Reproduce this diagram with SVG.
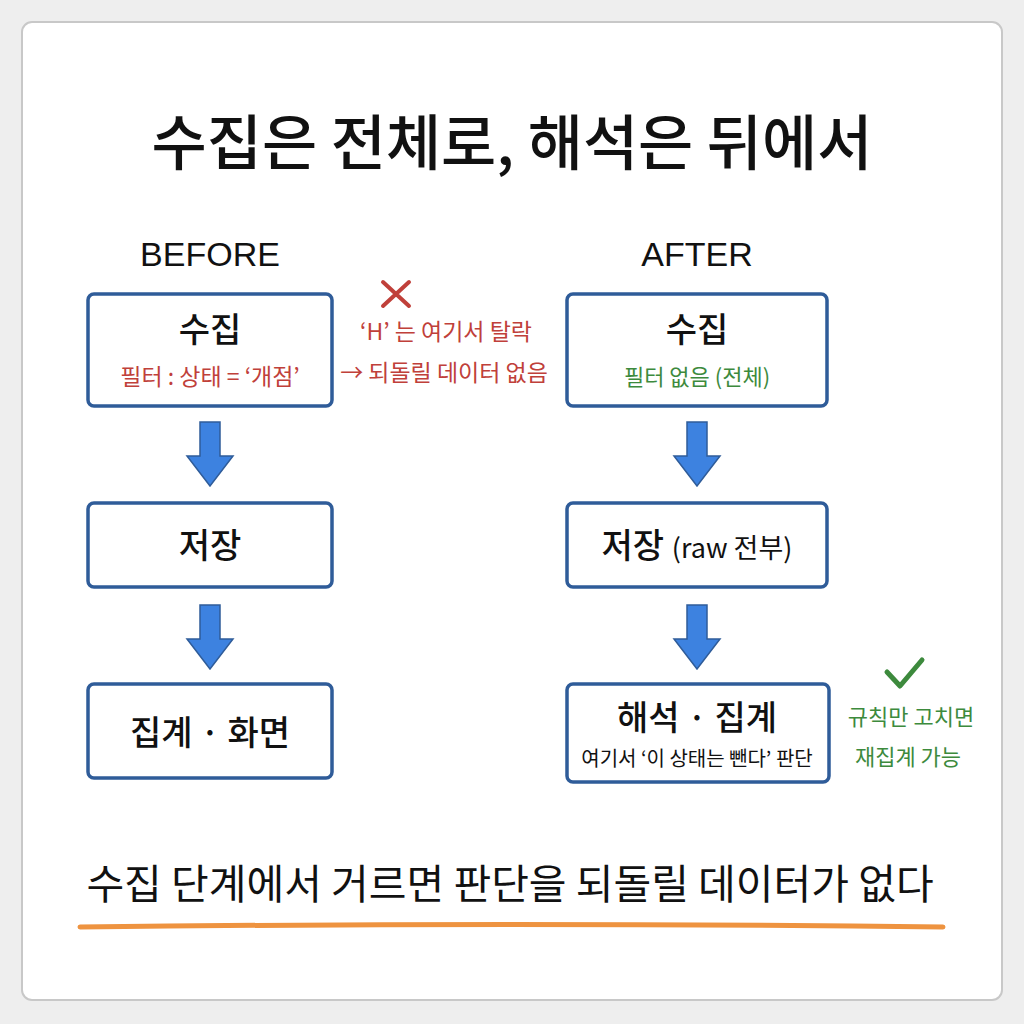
<svg xmlns="http://www.w3.org/2000/svg" width="1024" height="1024" viewBox="0 0 1024 1024">
<defs>
<style>
text{font-family:"Noto Sans CJK KR","Noto Sans",sans-serif;text-anchor:middle}
.box{fill:#fff;stroke:#2f5c99;stroke-width:3.5}
.t{font-size:34px;font-weight:500;fill:#111}
.red{fill:#c0403a;font-size:23px}
.grn{fill:#3d8a3d;font-size:22px}
.blk{fill:#111;font-size:20px}
.arr{fill:#3d82e0;stroke:#2f5c99;stroke-width:1.5}
</style>
<symbol id="down" viewBox="0 0 50 70"><path d="M15 2h20v34h13L25 66 2 36h13z"/></symbol>
</defs>
<rect x="0" y="0" width="1024" height="1024" fill="#eeeeee"/>
<rect x="22" y="22" width="980" height="978" rx="10" fill="#fff" stroke="#c8c8c8" stroke-width="2"/>
<text x="512" y="165" style="font-size:60px;font-weight:500;fill:#111">수집은 전체로, 해석은 뒤에서</text>
<text x="210" y="266" style="font-size:34px;fill:#111;font-family:'Liberation Sans',sans-serif">BEFORE</text>
<text x="697" y="266" style="font-size:34px;fill:#111;font-family:'Liberation Sans',sans-serif">AFTER</text>
<g id="b1"><rect class="box" x="88" y="294" width="244" height="112" rx="6"/><text class="t" x="210" y="342">수집</text><text class="red" x="210" y="385">필터 : 상태 = ‘개점’</text></g>
<g id="b2"><rect class="box" x="88" y="503" width="244" height="84" rx="6"/><text class="t" x="210" y="558">저장</text></g>
<g id="b3"><rect class="box" x="88" y="684" width="244" height="94" rx="6"/><text class="t" x="210" y="745">집계 · 화면</text></g>
<g id="note1"><path d="M383 282l26 24M409 282l-26 24" stroke="#c0403a" stroke-width="4" stroke-linecap="round"/><text class="red" x="446" y="340">‘H’ 는 여기서 탈락</text><text class="red" x="444" y="381">→ 되돌릴 데이터 없음</text></g>
<g id="a1"><rect class="box" x="567" y="294" width="260" height="112" rx="6"/><text class="t" x="697" y="342">수집</text><text class="grn" x="697" y="385">필터 없음 (전체)</text></g>
<g id="a2"><rect class="box" x="567" y="503" width="260" height="84" rx="6"/><text class="t" x="697" y="558">저장 <tspan style="font-size:27px;font-weight:400">(raw 전부)</tspan></text></g>
<g id="a3"><rect class="box" x="567" y="684" width="262" height="98" rx="6"/><text class="t" x="697" y="730">해석 · 집계</text><text class="blk" x="697" y="766">여기서 ‘이 상태는 뺀다’ 판단</text></g>
<g id="note2"><path d="M887 672l13 14 22-26" fill="none" stroke="#3d8a3d" stroke-width="5" stroke-linecap="round" stroke-linejoin="round"/><text class="grn" x="911" y="725">규칙만 고치면</text><text class="grn" x="908" y="765">재집계 가능</text></g>
<g id="connectors">
<use href="#down" class="arr" x="185" y="420" width="50" height="70"/>
<use href="#down" class="arr" x="185" y="603" width="50" height="70"/>
<use href="#down" class="arr" x="672" y="420" width="50" height="70"/>
<use href="#down" class="arr" x="672" y="603" width="50" height="70"/>
</g>
<text x="510" y="899" style="font-size:41px;fill:#111">수집 단계에서 거르면 판단을 되돌릴 데이터가 없다</text>
<path d="M80 927Q510 922 943 927" stroke="#ee9340" stroke-width="5" fill="none" stroke-linecap="round"/>
</svg>
